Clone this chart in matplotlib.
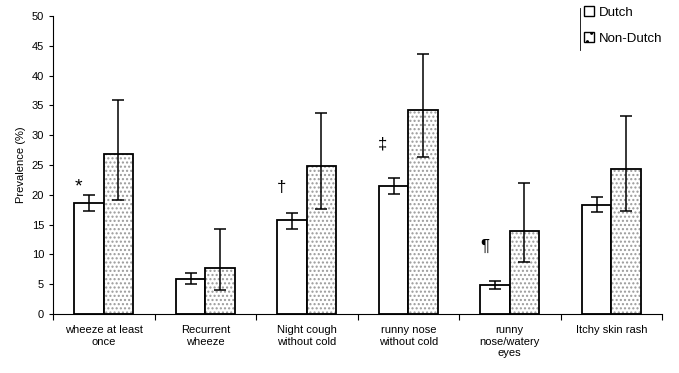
import matplotlib
matplotlib.use("Agg")
import matplotlib.pyplot as plt
import numpy as np
from matplotlib.lines import Line2D
from matplotlib.patches import Patch

categories = ["wheeze at least\nonce", "Recurrent\nwheeze", "Night cough\nwithout cold",
              "runny nose\nwithout cold", "runny\nnose/watery\neyes", "Itchy skin rash"]
dutch = [18.6, 5.9, 15.7, 21.5, 4.9, 18.3]
dutch_lo = [17.2, 5.1, 14.3, 20.1, 4.2, 17.1]
dutch_hi = [20.0, 6.9, 16.9, 22.8, 5.5, 19.7]
nondutch = [26.8, 7.8, 24.8, 34.2, 14.0, 24.4]
nondutch_lo = [19.1, 4.0, 17.6, 26.3, 8.7, 17.3]
nondutch_hi = [35.9, 14.3, 33.7, 43.6, 21.9, 33.3]
markers = ["*", "", "\u2020", "\u2021", "\u00b6", ""]
marker_y = [21.3, 0, 21.3, 28.5, 11.4, 0]

plt.rcParams['font.family'] = ['Liberation Sans', 'DejaVu Sans']
fig = plt.figure(figsize=(6.79, 3.73), dpi=100)
ax = fig.add_axes([53/679, 1-314/373, 609/679, 298/373])

x = np.arange(len(categories)) + 0.5
w = 0.29
d = np.array(dutch); n = np.array(nondutch)
ax.bar(x - w/2, d, w, color='white', edgecolor='black', linewidth=1.3)
ax.bar(x + w/2, n, w, color='white', edgecolor='#9a9a9a', linewidth=0, hatch='....')
ax.bar(x + w/2, n, w, fill=False, edgecolor='black', linewidth=1.3)
ax.errorbar(x - w/2, d, yerr=[d - np.array(dutch_lo), np.array(dutch_hi) - d],
            fmt='none', ecolor='black', elinewidth=1.1, capsize=4, capthick=1.1)
ax.errorbar(x + w/2, n, yerr=[n - np.array(nondutch_lo), np.array(nondutch_hi) - n],
            fmt='none', ecolor='black', elinewidth=1.1, capsize=4, capthick=1.1)

for xi, m, my in zip(x, markers, marker_y):
    if m:
        ax.text(xi - 0.25, my, m, ha='center', va='center', fontsize=14 if m == '*' else 12)

ax.set_xlim(0, 6)
ax.set_ylim(0, 50)
ax.set_yticks(np.arange(0, 51, 5))
ax.set_xticks(np.arange(0, 7))
ax.set_xticklabels([])
ax.set_xticks(x, minor=True)
ax.set_xticklabels(categories, minor=True, fontsize=8)
ax.tick_params(axis='x', which='minor', length=0, pad=8)
ax.tick_params(axis='x', which='major', length=4, direction='out')
ax.tick_params(axis='y', labelsize=8, length=3)
ax.set_ylabel("Prevalence (%)", fontsize=8)
for s in ['top', 'right']:
    ax.spines[s].set_visible(False)

handles = [Patch(facecolor='white', edgecolor='black', label='Dutch'),
           Patch(facecolor='white', edgecolor='black', hatch='..', label='Non-Dutch')]
ax.legend(handles=handles, loc='upper left', bbox_to_anchor=(576/679, 1.005),
          bbox_transform=fig.transFigure,
          frameon=False, fontsize=9.5, handlelength=0.8, handleheight=0.8,
          handletextpad=0.3, labelspacing=1.0, borderaxespad=0.2)
fig.add_artist(Line2D([580/679, 580/679], [1-8/373, 1-50/373], color='black', linewidth=0.6))

fig.savefig("out.png", dpi=100)
